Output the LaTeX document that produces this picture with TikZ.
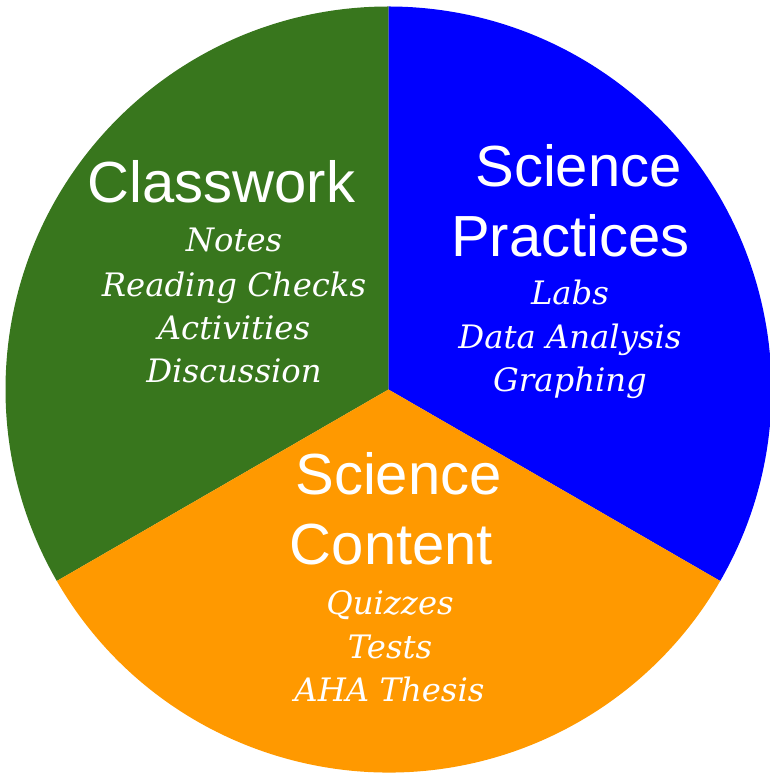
\documentclass[tikz,border=0pt]{standalone}
\usepackage{fontspec}
\setmainfont{Liberation Sans}
\newfontfamily\itemfont{DejaVu Serif}
\definecolor{cwgreen}{HTML}{38761D}
\definecolor{spblue}{HTML}{0000FF}
\definecolor{scorange}{HTML}{FF9900}
\begin{document}
\begin{tikzpicture}[x=1pt,y=1pt,
  title/.style={text=white,anchor=base,inner sep=0pt,font=\fontsize{58}{66}\selectfont},
  item/.style={text=white,anchor=base,inner sep=0pt,font=\itemfont\itshape\fontsize{32.3}{38}\selectfont}]
\useasboundingbox (0,0) rectangle (769,774);
\coordinate (c) at (388.5,384.5);
\def\R{383}
\fill[cwgreen] (c) -- ++(90:\R) arc[start angle=90,end angle=210,radius=\R] -- cycle;
\fill[spblue] (c) -- ++(-30:\R) arc[start angle=-30,end angle=90,radius=\R] -- cycle;
\fill[scorange] (c) -- ++(210:\R) arc[start angle=210,end angle=330,radius=\R] -- cycle;
% Classwork
\node[title] (cw) at (221.5,774-203) {Classwork};
\node[item] (cw1) at (234,774-252) {Notes};
\node[item] (cw2) at (234,774-297) {Reading Checks};
\node[item] (cw3) at (234,774-340) {Activities};
\node[item] (cw4) at (234,774-383) {Discussion};
% Science Practices
\node[title] (sp1) at (578.5,774-187) {Science};
\node[title] (sp2) at (570.5,774-257) {Practices};
\node[item] (spa) at (570,774-305) {Labs};
\node[item] (spb) at (570,774-349) {Data Analysis};
\node[item] (spc) at (570,774-392) {Graphing};
% Science Content
\node[title] (sc1) at (398.5,774-495) {Science};
\node[title] (sc2) at (391.5,774-565) {Content};
\node[item] (sca) at (390,774-615) {Quizzes};
\node[item] (scb) at (390,774-659) {Tests};
\node[item] (scc) at (389.5,774-702) {AHA Thesis};
\end{tikzpicture}
\end{document}
